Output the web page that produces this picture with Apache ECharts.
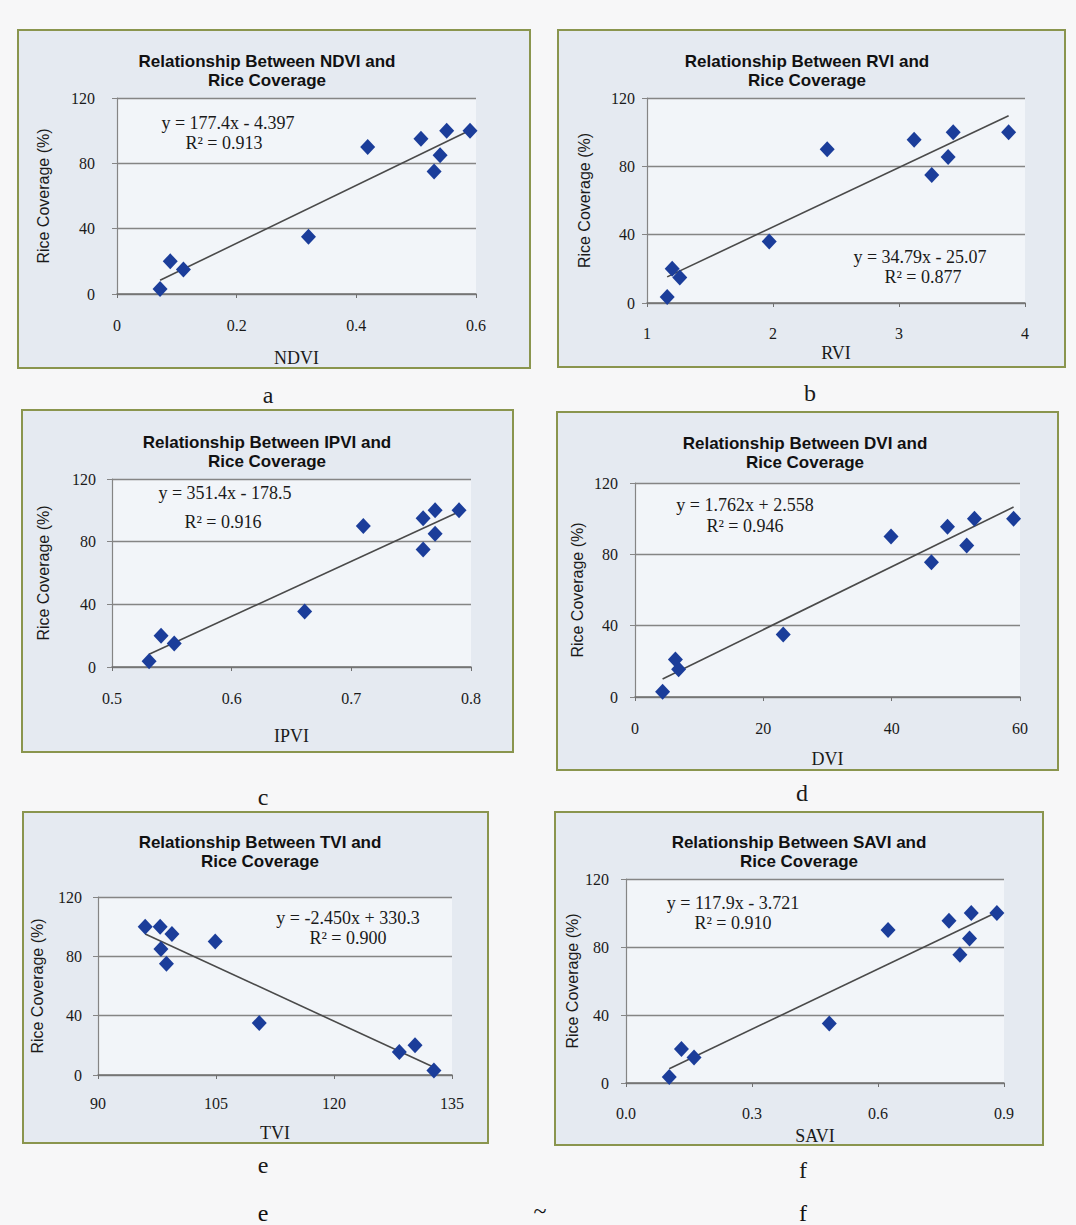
<!DOCTYPE html>
<html><head><meta charset="utf-8">
<script src="https://cdn.jsdelivr.net/npm/echarts@6/dist/echarts.min.js"></script>
<style>html,body{margin:0;padding:0;background:#f7f7f8}#c{width:1076px;height:1225px}</style>
</head><body><div id="c"></div>
<script>
// ---------- data ----------
const yAxisLabel = 'Rice Coverage (%)';
const indexNames = ['NDVI', 'RVI', 'IPVI', 'DVI', 'TVI', 'SAVI'];
const panelLetters = ['a', 'b', 'c', 'd', 'e', 'f'];

const ndviX = [0.072, 0.089, 0.111, 0.320, 0.419, 0.508, 0.530, 0.540, 0.551, 0.590];
const ndviY = [3, 20, 15, 35, 90, 95, 75, 85, 100, 100];
const rviX  = [1.16, 1.20, 1.26, 1.97, 2.43, 3.12, 3.26, 3.39, 3.43, 3.87];
const rviY  = [3.5, 20, 15, 36, 90, 95.5, 75, 85.5, 100, 100];
const ipviX = [0.531, 0.541, 0.552, 0.661, 0.710, 0.760, 0.760, 0.770, 0.770, 0.790];
const ipviY = [3.6, 20, 15, 35.5, 90, 95, 75, 85, 100, 100];
const dviX  = [4.3, 6.3, 6.8, 23.1, 39.9, 48.7, 46.2, 51.7, 52.9, 59.0];
const dviY  = [3, 21, 15.5, 35, 90, 95.5, 75.5, 85, 100, 100];
const tviX  = [96.0, 97.9, 99.4, 98.0, 98.7, 104.9, 110.5, 128.3, 130.3, 132.7];
const tviY  = [100, 100, 95, 85, 75, 90, 35, 15.5, 20, 3];
const saviX = [0.103, 0.132, 0.162, 0.484, 0.624, 0.769, 0.795, 0.818, 0.822, 0.883];
const saviY = [3.5, 20, 15, 35, 90, 95.5, 75.5, 85, 100, 100];

const slopes     = [177.4, 34.79, 351.4, 1.762, -2.450, 117.9];
const intercepts = [-4.397, -25.07, -178.5, 2.558, 330.3, -3.721];
const eqTexts = ['y = 177.4x - 4.397', 'y = 34.79x - 25.07', 'y = 351.4x - 178.5',
                 'y = 1.762x + 2.558', 'y = -2.450x + 330.3', 'y = 117.9x - 3.721'];
const r2Texts = ['R\u00b2 = 0.913', 'R\u00b2 = 0.877', 'R\u00b2 = 0.916',
                 'R\u00b2 = 0.946', 'R\u00b2 = 0.900', 'R\u00b2 = 0.910'];

const xMins = [0, 1, 0.5, 0, 90, 0];
const xMaxs = [0.6, 4, 0.8, 60, 135, 0.9];
const xIntervals = [0.2, 1, 0.1, 20, 15, 0.3];
const xDecimals = [null, null, 1, null, null, 1];
const yMin = 0, yMax = 120, yInterval = 40;
const bottomLabels = ['e', '~', 'f'];

// ---------- layout ----------
const L = [
  {box:[18,30,512,338],  grid:[117,98,359,196], title:[267,71],  eq:[228,123],  r2:[224,143],  letter:[268,395],  yGap:66, xGap:55, xM:23, yM:22},
  {box:[558,30,507,337], grid:[647,98,378,205], title:[807,71],  eq:[920,257],  r2:[923,277],  letter:[810,393],  yGap:55, xGap:41, xM:22, yM:12},
  {box:[22,410,491,342], grid:[112,479,359,188],title:[267,452], eq:[225,493],  r2:[223,522],  letter:[263,797],  yGap:61, xGap:60, xM:23, yM:16},
  {box:[557,412,501,358],grid:[635,483,385,214],title:[805,453], eq:[745,505],  r2:[745,526],  letter:[802,793],  yGap:50, xGap:53, xM:23, yM:17},
  {box:[23,812,465,331], grid:[98,897,354,178], title:[260,852], eq:[348,918],  r2:[348,938],  letter:[263,1165], yGap:53, xGap:49, xM:20, yM:16},
  {box:[555,812,488,333],grid:[626,879,378,204],title:[799,852], eq:[733,903],  r2:[733,923],  letter:[803,1170], yGap:46, xGap:44, xM:22, yM:17}
];
const bottomPos = [[263,1213],[540,1211],[803,1213]];

const xsAll = [ndviX, rviX, ipviX, dviX, tviX, saviX];
const ysAll = [ndviY, rviY, ipviY, dviY, tviY, saviY];

const SERIF = '"Liberation Serif", "Times New Roman", serif';
const SANS = '"Liberation Sans", Arial, sans-serif';

const grids = [], xAxes = [], yAxes = [], series = [], graphics = [];

L.forEach((p, i) => {
  graphics.push({type:'rect', shape:{x:p.box[0], y:p.box[1], width:p.box[2], height:p.box[3]},
    style:{fill:'#e5eaf1', stroke:'#8a954e', lineWidth:2}, z:-10});
  grids.push({left:p.grid[0], top:p.grid[1], width:p.grid[2], height:p.grid[3],
    show:true, backgroundColor:'#f2f5f9', borderWidth:0, outerBoundsMode:'none', containLabel:false});
  xAxes.push({type:'value', gridIndex:i, min:xMins[i], max:xMaxs[i], interval:xIntervals[i],
    name:indexNames[i], nameLocation:'middle', nameGap:p.xGap,
    nameTextStyle:{fontFamily:SERIF, fontSize:18, color:'#1a1a1a'},
    axisLine:{show:true, onZero:false, lineStyle:{color:'#707070', width:1.5}},
    axisTick:{show:true, length:4, lineStyle:{color:'#707070'}},
    axisLabel:{fontFamily:SERIF, fontSize:16, color:'#1a1a1a', margin:p.xM,
      formatter: v => xDecimals[i] != null ? v.toFixed(xDecimals[i]) : String(+v.toFixed(6))},
    splitLine:{show:false}});
  yAxes.push({type:'value', gridIndex:i, min:yMin, max:yMax, interval:yInterval,
    name:yAxisLabel, nameLocation:'middle', nameRotate:90, nameGap:p.yGap,
    nameTextStyle:{fontFamily:SANS, fontSize:16, color:'#1a1a1a'},
    axisLine:{show:true, lineStyle:{color:'#858585', width:1.2}},
    axisTick:{show:true, length:5, lineStyle:{color:'#858585'}},
    axisLabel:{fontFamily:SERIF, fontSize:16, color:'#1a1a1a', margin:p.yM},
    splitLine:{show:true, lineStyle:{color:'#858585', width:1.3}}});
  const xs = xsAll[i], ys = ysAll[i];
  series.push({type:'scatter', xAxisIndex:i, yAxisIndex:i, symbol:'diamond', symbolSize:[15,16],
    itemStyle:{color:'#1b3d9a', opacity:1}, data: xs.map((x, j) => [x, ys[j]]), z:3});
  const lo = Math.min(...xs), hi = Math.max(...xs);
  series.push({type:'line', xAxisIndex:i, yAxisIndex:i, showSymbol:false, symbol:'none', silent:true,
    lineStyle:{color:'#4a4a4a', width:1.6},
    data:[[lo, slopes[i]*lo + intercepts[i]], [hi, slopes[i]*hi + intercepts[i]]], z:2});
  graphics.push({type:'text', x:p.title[0], y:p.title[1], z:5,
    style:{text:'Relationship Between ' + indexNames[i] + ' and\nRice Coverage',
      font:'bold 17px ' + SANS, fill:'#111', align:'center', verticalAlign:'middle', lineHeight:19}});
  graphics.push({type:'text', x:p.eq[0], y:p.eq[1], z:5,
    style:{text:eqTexts[i], font:'18px ' + SERIF, fill:'#1a1a1a', align:'center', verticalAlign:'middle'}});
  graphics.push({type:'text', x:p.r2[0], y:p.r2[1], z:5,
    style:{text:r2Texts[i], font:'18px ' + SERIF, fill:'#1a1a1a', align:'center', verticalAlign:'middle'}});
  graphics.push({type:'text', x:p.letter[0], y:p.letter[1], z:5,
    style:{text:panelLetters[i], font:'24px ' + SERIF, fill:'#1a1a1a', align:'center', verticalAlign:'middle'}});
});
bottomLabels.forEach((t, k) => {
  graphics.push({type:'text', x:bottomPos[k][0], y:bottomPos[k][1], z:5,
    style:{text:t, font:'24px ' + SERIF, fill:'#111', align:'center', verticalAlign:'middle'}});
});

const chart = echarts.init(document.getElementById('c'), null, {renderer:'svg'});
chart.setOption({
  animation:false,
  backgroundColor:'#f7f7f8',
  grid:grids, xAxis:xAxes, yAxis:yAxes, series:series,
  graphic:{elements:graphics}
});
</script></body></html>
